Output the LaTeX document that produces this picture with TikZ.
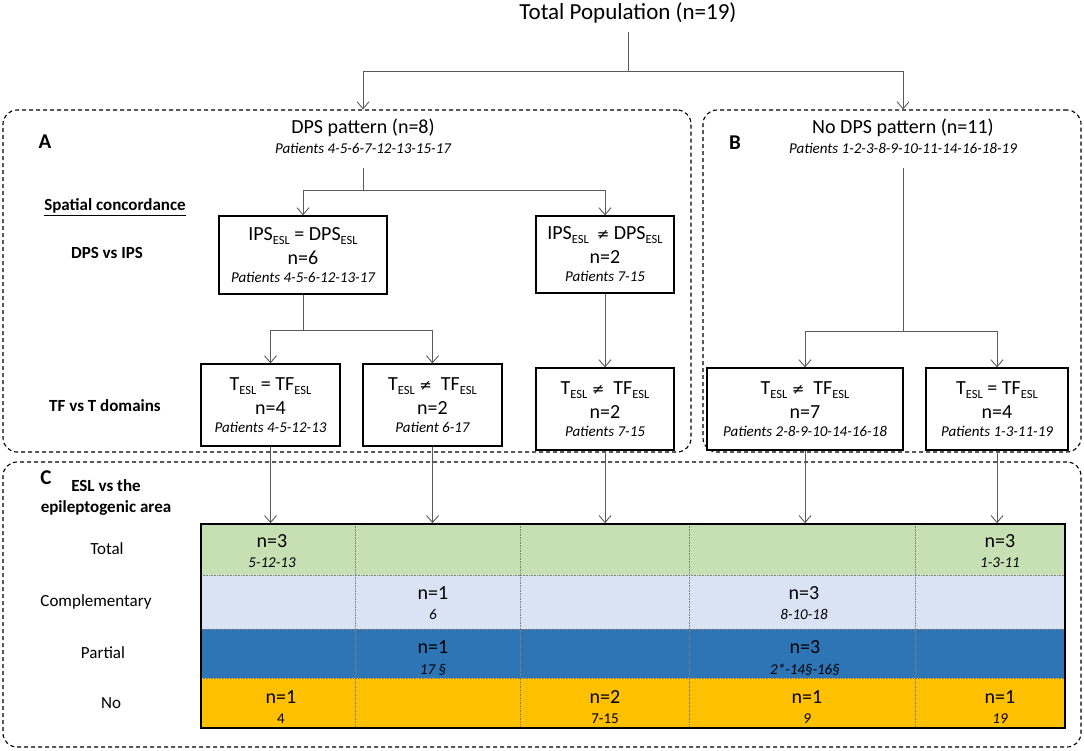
\documentclass[tikz,border=0pt]{standalone}
\usepackage{fontspec}
\setmainfont{Carlito}
\newfontfamily\symfont{DejaVu Sans}
\usetikzlibrary{arrows.meta}
\newcommand\ssub[1]{\raisebox{-0.2em}{\fontsize{12.5}{12.5}\selectfont #1}}
\newcommand\neqs{{\symfont\fontsize{15}{15}\selectfont ≠}}
\newcommand\ftitle{\fontsize{23}{26}\selectfont}
\newcommand\fbig{\fontsize{20}{21}\selectfont}
\newcommand\fpat{\fontsize{15}{19}\selectfont\itshape}
\newcommand\fpatup{\fontsize{15}{19}\selectfont}
\newcommand\flab{\fontsize{17}{21}\selectfont}
\definecolor{rowgreen}{HTML}{C6E0B4}
\definecolor{rowlblue}{HTML}{DAE3F3}
\definecolor{rowblue}{HTML}{2E75B6}
\definecolor{rowgold}{HTML}{FFC000}
\definecolor{conngray}{HTML}{5A5A5A}
\tikzset{
  panel/.style={draw, dash pattern=on 4pt off 3pt, line width=1.1pt, rounded corners=14pt, inner sep=0pt},
  box/.style={draw, line width=1.2pt, fill=white, align=center, inner sep=0pt, font=\fontsize{20}{21}\selectfont},
  conn/.style={draw=conngray, line width=0.9pt},
  arr/.style={conn, -{Straight Barb[length=7pt,width=12pt]}},
  cell/.style={align=center, inner sep=0pt, font=\fontsize{15}{20.5}\selectfont},
  rowlab/.style={inner sep=0pt, font=\flab},
  boldlab/.style={inner sep=0pt, font=\flab\bfseries, align=center},
  letter/.style={inner sep=0pt, font=\fontsize{21}{21}\selectfont\bfseries},
  divider/.style={draw=gray, densely dotted, line width=0.6pt}
}
\begin{document}
\begin{tikzpicture}[x=1pt,y=-1pt]
\useasboundingbox (0,0) rectangle (1084,750);

% panels
\node[panel, minimum width=688, minimum height=342] (pA) at (347,281) {};
\node[panel, minimum width=378, minimum height=342] (pB) at (892,281) {};
\node[panel, minimum width=1078, minimum height=285] (pC) at (542,604.5) {};

% title
\node[inner sep=0pt, font=\ftitle] (title) at (628,13) {Total Population (n=19)};
\coordinate (ttop) at (628,32);
\coordinate (tj) at (628,71);

% panel headers
\node[inner sep=0pt, font=\fbig] (dps) at (363,128) {DPS pattern (n=8)};
\node[inner sep=0pt, font=\fpat] (dpsp) at (363,148) {Patients 4-5-6-7-12-13-15-17};
\node[inner sep=0pt, font=\fbig] (nodps) at (903,128) {No DPS pattern (n=11)};
\node[inner sep=0pt, font=\fpat] (nodpsp) at (903,148) {Patients 1-2-3-8-9-10-11-14-16-18-19};

\node[letter] (lA) at (45,142) {A};
\node[letter] (lB) at (735,143) {B};
\node[letter] (lC) at (46,478) {C};

% side labels
\node[boldlab] (spc) at (115,207) {\underline{Spatial concordance}};
\node[boldlab] (dvi) at (107,253) {DPS vs IPS};
\node[boldlab] (tft) at (105,406) {TF vs T domains};
\node[boldlab] (esl) at (106,497) {ESL vs the\\epileptogenic area};

% boxes
\node[box, minimum width=168, minimum height=78] (b1) at (303,255)
  {IPS\ssub{ESL} = DPS\ssub{ESL}\\[3pt] n=6\\[-3pt] {\fpat Patients 4-5-6-12-13-17}};
\node[box, minimum width=138, minimum height=77] (b2) at (605,254.5)
  {IPS\ssub{ESL}\, \neqs\ DPS\ssub{ESL}\\[3pt] n=2\\[-3pt] {\fpat Patients 7-15}};
\node[box, minimum width=139, minimum height=82] (b3) at (270.5,405)
  {T\ssub{ESL} = TF\ssub{ESL}\\[3pt] n=4\\[-3pt] {\fpat Patients 4-5-12-13}};
\node[box, minimum width=139, minimum height=82] (b4) at (432.5,405)
  {T\ssub{ESL} \neqs\ \ TF\ssub{ESL}\\[3pt] n=2\\[-3pt] {\fpat Patient 6-17}};
\node[box, minimum width=138, minimum height=82] (b5) at (605,409)
  {T\ssub{ESL} \neqs\ \ TF\ssub{ESL}\\[3pt] n=2\\[-3pt] {\fpat Patients 7-15}};
\node[box, minimum width=196, minimum height=82] (b6) at (805,409)
  {T\ssub{ESL} \neqs\ \ TF\ssub{ESL}\\[3pt] n=7\\[-3pt] {\fpat Patients 2-8-9-10-14-16-18}};
\node[box, minimum width=142, minimum height=82] (b7) at (997,409)
  {T\ssub{ESL} = TF\ssub{ESL}\\[3pt] n=4\\[-3pt] {\fpat Patients 1-3-11-19}};

% connectors top
\draw[conn] (ttop) -- (tj);
\draw[arr] (tj) -- (tj -| dps) -- (dps |- pA.north);
\draw[arr] (tj) -- (tj -| nodps) -- (nodps |- pB.north);

\coordinate (jA) at (363,190);
\draw[conn] (dpsp.south) ++(0,15) -- (jA);
\draw[arr] (jA) -| (b1.north);
\draw[arr] (jA) -| (b2.north);

\coordinate (jB) at (303,330);
\draw[conn] (b1.south) -- (jB);
\draw[arr] (jB) -| (b3.north);
\draw[arr] (jB) -| (b4.north);
\draw[arr] (b2.south) -- (b5.north);

\coordinate (jC) at (903,331);
\draw[conn] (nodpsp.south) ++(0,15) -- (jC);
\draw[arr] (jC) -| (b6.north);
\draw[arr] (jC) -| (b7.north);

% table
\fill[rowgreen] (201,524) rectangle (1065,575);
\fill[rowlblue] (201,575) rectangle (1065,629);
\fill[rowblue] (201,629) rectangle (1065,678);
\fill[rowgold] (201,678) rectangle (1065,728);
\foreach \xx in {355,520,689,915} {\draw[divider] (\xx,524) -- (\xx,728);}
\foreach \yy in {575,629,678} {\draw[divider] (201,\yy) -- (1065,\yy);}
\node[draw, line width=1.6pt, minimum width=864, minimum height=204, inner sep=0pt] (tbl) at (633,626) {};

\draw[arr] (b3.south) -- (b3.south |- tbl.north);
\draw[arr] (b4.south) -- (b4.south |- tbl.north);
\draw[arr] (b5.south) -- (b5.south |- tbl.north);
\draw[arr] (b6.south) -- (b6.south |- tbl.north);
\draw[arr] (b7.south) -- (b7.south |- tbl.north);

% row labels
\node[rowlab] (rTotal) at (107,549) {Total};
\node[rowlab] (rComp) at (96,602) {Complementary};
\node[rowlab] (rPart) at (103,653) {Partial};
\node[rowlab] (rNo) at (111,703) {No};

% cells
\node[cell] (c11) at (272,551) {{\fbig n=3}\\{\fpat 5-12-13}};
\node[cell] (c15) at (1000,551) {{\fbig n=3}\\{\fpat 1-3-11}};
\node[cell] (c22) at (433,603) {{\fbig n=1}\\{\fpat 6}};
\node[cell] (c24) at (804,603) {{\fbig n=3}\\{\fpat 8-10-18}};
\node[cell] (c32) at (433,658) {{\fbig n=1}\\{\fpat 17 §}};
\node[cell] (c34) at (805,658) {{\fbig n=3}\\{\fpat 2*-14§-16§}};
\node[cell] (c41) at (281,707) {{\fbig n=1}\\{\fpatup 4}};
\node[cell] (c43) at (605,707) {{\fbig n=2}\\{\fpatup 7-15}};
\node[cell] (c44) at (807,707) {{\fbig n=1}\\{\fpat 9}};
\node[cell] (c45) at (1000,707) {{\fbig n=1}\\{\fpat 19}};
\end{tikzpicture}
\end{document}
